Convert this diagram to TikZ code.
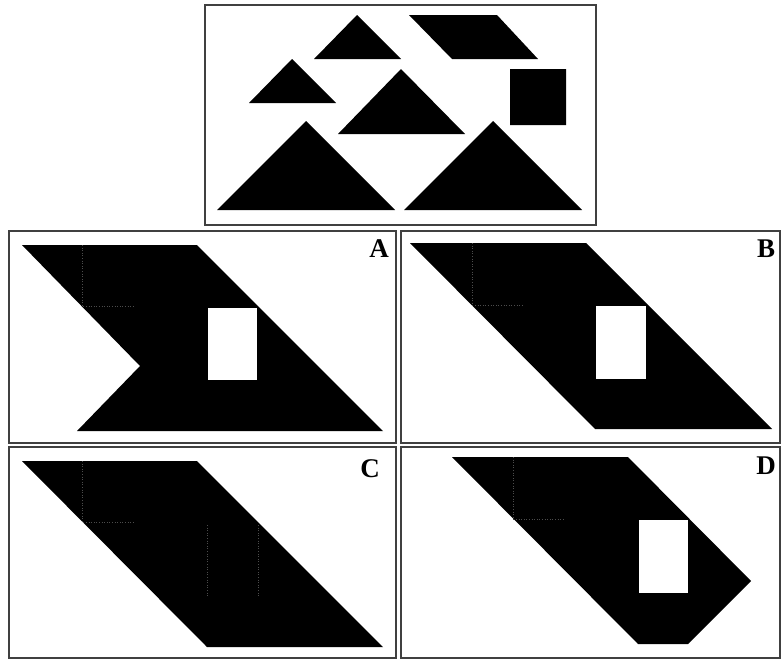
\documentclass[tikz,border=0pt]{standalone}
\usepackage{fontspec}
\setmainfont{Liberation Serif}
\usetikzlibrary{calc}
\begin{document}
\begin{tikzpicture}[x=1pt,y=-1pt,font=\bfseries\fontsize{27}{29}\selectfont]
 \tikzset{frame/.style={draw=black!75,line width=1.5pt},piece/.style={fill=black},seam/.style={draw=black!70,dotted,line width=.6pt},hole/.style={fill=white},tag/.style={inner sep=0pt}}
 \useasboundingbox (0,0) rectangle (781,659);
 % the seven pieces
 \draw[frame] (205,5) rectangle (596,225);
 \fill[piece] (314,59)--(357,15)--(401,59)--cycle (249,103)--(292,59)--(336,103)--cycle (338,134)--(401,69)--(465,134)--cycle;
 \fill[piece] (409,15)--(497,15)--(538,59)--(452,59)--cycle (510,69) rectangle (566,125);
 \fill[piece] (217,210)--(306,121)--(395,210)--cycle (404,210)--(493,121)--(582,210)--cycle;
 % answer panels
 \foreach \x/\y in {9/231,401/231,9/447,401/447}{\draw[frame] (\x,\y) rectangle ++(\ifnum\x=9 387\else 379\fi,\ifnum\y=231 212\else 211\fi);}
 \fill[piece] (22,245)--(197,245)--(383,431)--(77,431)--(140,366)--cycle;\fill[hole] (208,308) rectangle (257,380);
 \draw[seam] (82,245)--(82,306)--(133,306);
 \fill[piece] (410,243)--(586,243)--(772,429)--(595,429)--cycle;\fill[hole] (596,306) rectangle (646,379);
 \draw[seam] (472,243)--(472,305)--(522,305);
 \fill[piece] (22,461)--(197,461)--(383,647)--(207,647)--cycle;
 \draw[seam] (82,461)--(82,522)--(133,522) (207,525)--(207,597) (258,525)--(258,597);
 \fill[piece] (452,457)--(628,457)--(751,581)--(688,644)--(638,644)--cycle;\fill[hole] (639,520) rectangle (688,593);
 \draw[seam] (513,457)--(513,519)--(565,519);
 \node[tag] (lblA) at (379,249) {A};\node[tag] (lblB) at (766,249) {B};
 \node[tag] (lblC) at (370,469) {C};\node[tag] (lblD) at (766,466) {D};
\end{tikzpicture}
\end{document}
